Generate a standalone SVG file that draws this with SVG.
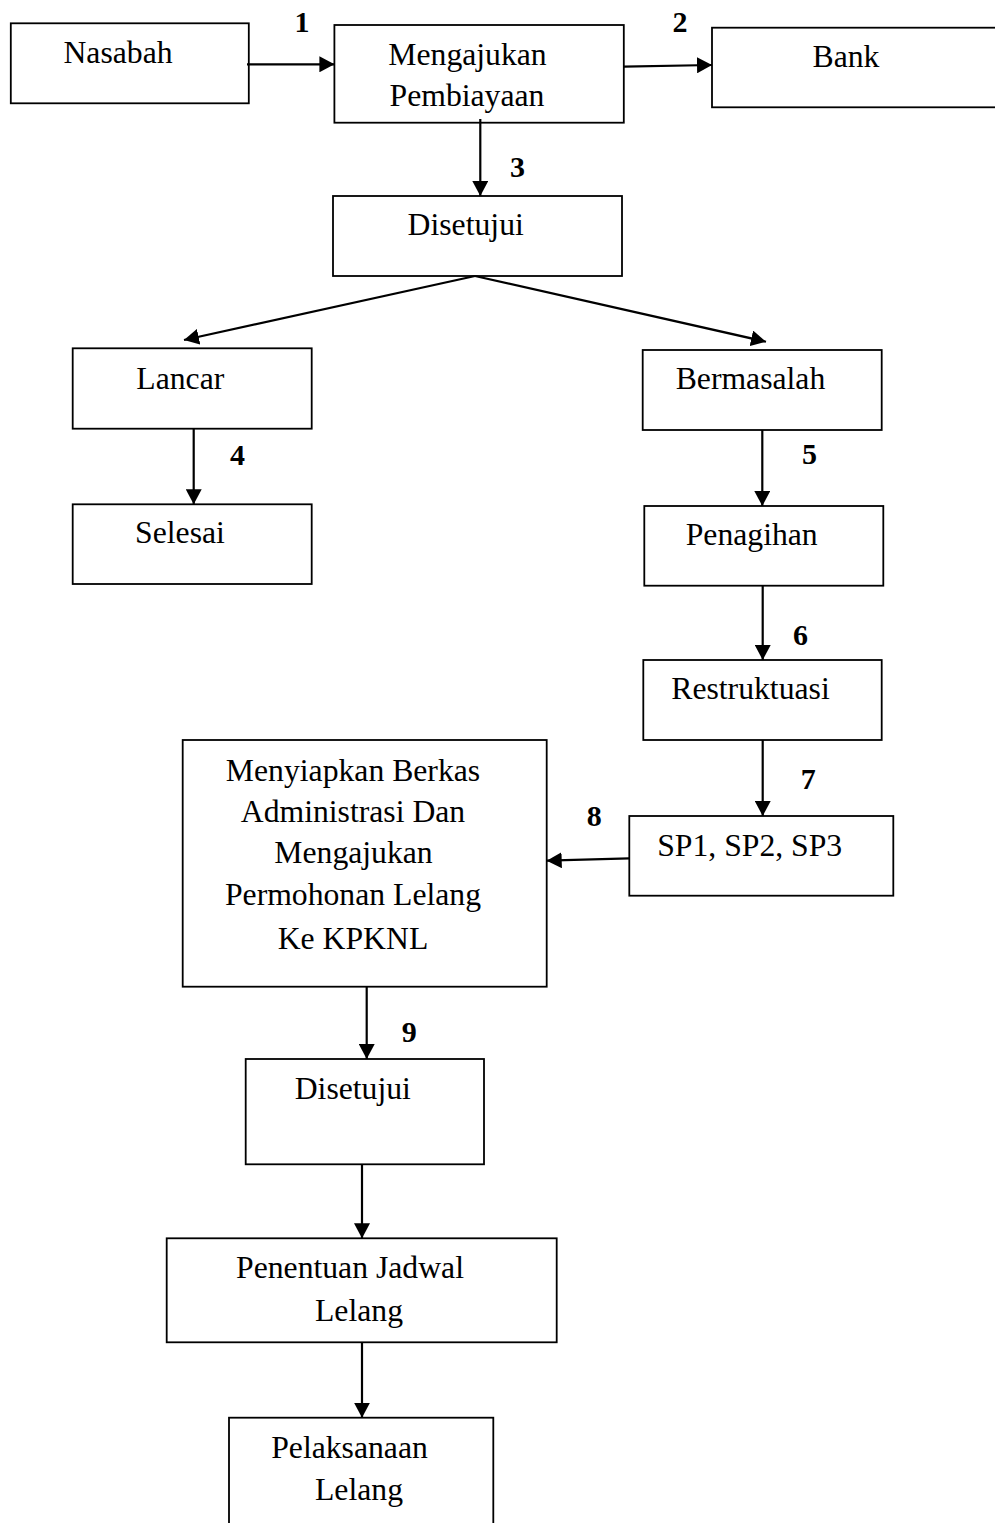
<svg xmlns="http://www.w3.org/2000/svg" width="995" height="1523" viewBox="0 0 995 1523">
<style>
.box{fill:#fff;stroke:#000;stroke-width:1.8}
.t{font-family:"Liberation Serif","Times New Roman",serif;font-size:31.7px;fill:#000;text-anchor:middle}
.n{font-family:"Liberation Serif","Times New Roman",serif;font-size:30px;font-weight:bold;fill:#000;text-anchor:middle}
.c{fill:none;stroke:#000;stroke-width:2.2}
</style>
<defs>
<marker id="ah" viewBox="0 0 15 16" refX="15" refY="8" markerWidth="15" markerHeight="16" markerUnits="userSpaceOnUse" orient="auto">
<path d="M0,0 L15,8 L0,16 z" fill="#000"/>
</marker>
</defs>
<rect width="995" height="1523" fill="#fff"/>
<g id="nasabah"><rect class="box" x="10.8" y="23.3" width="238" height="80"/><text class="t" x="118" y="63.3">Nasabah</text></g>
<g id="mengajukan"><rect class="box" x="334.4" y="25" width="289.4" height="97.7"/><text class="t" x="467.5" y="64.5">Mengajukan</text><text class="t" x="467" y="106">Pembiayaan</text></g>
<g id="bank"><rect class="box" x="712" y="27.7" width="295" height="79.6"/><text class="t" x="846" y="66.7">Bank</text></g>
<g id="disetujui1"><rect class="box" x="333" y="196" width="289" height="80"/><text class="t" x="465.7" y="235">Disetujui</text></g>
<g id="lancar"><rect class="box" x="72.7" y="348.3" width="239" height="80.4"/><text class="t" x="180.3" y="389.3">Lancar</text></g>
<g id="selesai"><rect class="box" x="72.7" y="504.3" width="239" height="79.7"/><text class="t" x="180" y="543.3">Selesai</text></g>
<g id="bermasalah"><rect class="box" x="642.7" y="350" width="239" height="80"/><text class="t" x="750.5" y="389.3">Bermasalah</text></g>
<g id="penagihan"><rect class="box" x="644.3" y="506" width="239" height="79.7"/><text class="t" x="751.7" y="545">Penagihan</text></g>
<g id="restruktuasi"><rect class="box" x="643.3" y="660" width="238.4" height="80"/><text class="t" x="750.5" y="699.3">Restruktuasi</text></g>
<g id="sp"><rect class="box" x="629.3" y="816" width="264" height="79.7"/><text class="t" x="749.7" y="856">SP1, SP2, SP3</text></g>
<g id="menyiapkan"><rect class="box" x="182.7" y="740" width="364" height="246.7"/>
<text class="t" x="353" y="780.7">Menyiapkan Berkas</text>
<text class="t" x="353" y="822.3">Administrasi Dan</text>
<text class="t" x="353.5" y="863.3">Mengajukan</text>
<text class="t" x="353" y="905">Permohonan Lelang</text>
<text class="t" x="353" y="949.3">Ke KPKNL</text></g>
<g id="disetujui2"><rect class="box" x="245.7" y="1059" width="238.3" height="105.3"/><text class="t" x="352.8" y="1099.3">Disetujui</text></g>
<g id="penentuan"><rect class="box" x="166.7" y="1238.3" width="390" height="104"/><text class="t" x="350" y="1278.3">Penentuan Jadwal</text><text class="t" x="359" y="1320.7">Lelang</text></g>
<g id="pelaksanaan"><rect class="box" x="229" y="1417.7" width="264.3" height="120"/><text class="t" x="349.5" y="1458.3">Pelaksanaan</text><text class="t" x="359" y="1500">Lelang</text></g>
<g id="connectors">
<line class="c" x1="247" y1="64.3" x2="334.4" y2="64.3" marker-end="url(#ah)"/>
<line class="c" x1="624" y1="66.7" x2="712" y2="65" marker-end="url(#ah)"/>
<line class="c" x1="480.3" y1="119" x2="480.3" y2="196" marker-end="url(#ah)"/>
<line class="c" x1="475" y1="276" x2="184" y2="340" marker-end="url(#ah)"/>
<line class="c" x1="475" y1="276" x2="766" y2="341.7" marker-end="url(#ah)"/>
<line class="c" x1="193.7" y1="428.7" x2="193.7" y2="504.3" marker-end="url(#ah)"/>
<line class="c" x1="762.3" y1="430" x2="762.3" y2="506" marker-end="url(#ah)"/>
<line class="c" x1="762.7" y1="585.7" x2="762.7" y2="660" marker-end="url(#ah)"/>
<line class="c" x1="762.7" y1="740" x2="762.7" y2="816" marker-end="url(#ah)"/>
<line class="c" x1="629.3" y1="858.3" x2="546.7" y2="860.7" marker-end="url(#ah)"/>
<line class="c" x1="366.7" y1="986.7" x2="366.7" y2="1059" marker-end="url(#ah)"/>
<line class="c" x1="362" y1="1164.3" x2="362" y2="1238.3" marker-end="url(#ah)"/>
<line class="c" x1="362" y1="1342.3" x2="362" y2="1417.7" marker-end="url(#ah)"/>
</g>
<g id="labels">
<text class="n" x="302" y="32.3">1</text>
<text class="n" x="680" y="32.3">2</text>
<text class="n" x="517.5" y="176.7">3</text>
<text class="n" x="237.5" y="465">4</text>
<text class="n" x="809.5" y="464">5</text>
<text class="n" x="800.5" y="645">6</text>
<text class="n" x="808.3" y="789.3">7</text>
<text class="n" x="594.2" y="826">8</text>
<text class="n" x="409.2" y="1041.7">9</text>
</g>
</svg>
